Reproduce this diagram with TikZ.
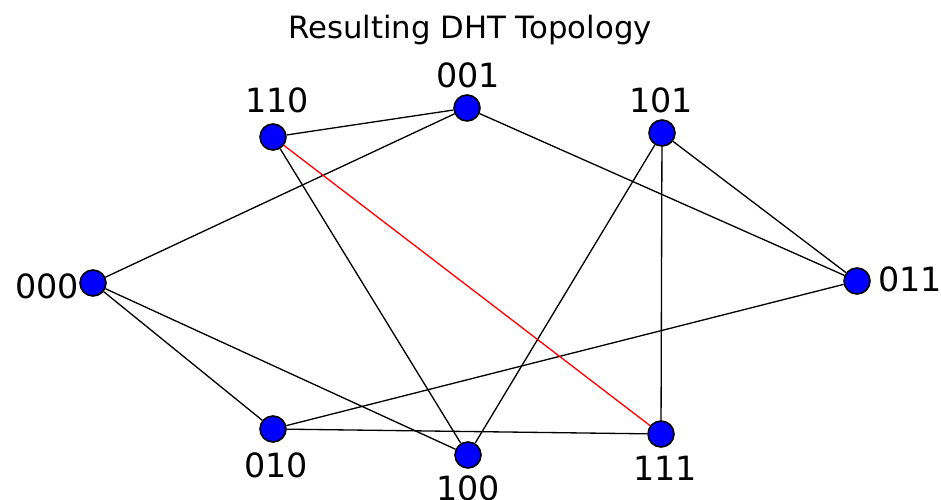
\documentclass[tikz,border=0pt]{standalone}
\usepackage{fontspec}
\setmainfont{DejaVu Sans}

\tikzset{
    peer/.style={circle, draw=black, fill=blue, line width=0.9pt, minimum size=0.52cm, inner sep=0pt},
    link/.style={black, line width=0.75pt},
    idtext/.style={font=\fontsize{19}{21}\selectfont, inner sep=0pt}
}

\begin{document}
\begin{tikzpicture}[x=0.02cm, y=-0.02cm]
    \useasboundingbox (0,0) rectangle (941,500);

    \node[font=\fontsize{17.5}{20}\selectfont] (title) at (470,30) {Resulting DHT Topology};

    % peers
    \node[peer] (p000) at (93,283) {};
    \node[peer] (p110) at (273,137) {};
    \node[peer] (p001) at (467,108) {};
    \node[peer] (p101) at (662,133) {};
    \node[peer] (p011) at (857,281) {};
    \node[peer] (p010) at (273,429) {};
    \node[peer] (p100) at (468,455) {};
    \node[peer] (p111) at (661,434) {};

    % ids
    \node[idtext] (t000) at (47,286) {000};
    \node[idtext] (t110) at (277,100) {110};
    \node[idtext] (t001) at (468,75) {001};
    \node[idtext] (t101) at (661,100) {101};
    \node[idtext] (t011) at (910,279) {011};
    \node[idtext] (t010) at (276,465) {010};
    \node[idtext] (t100) at (468,488) {100};
    \node[idtext] (t111) at (665,468) {111};

    % links
    \foreach \a/\b in {110/001, 001/000, 001/011, 110/100, 101/100,
                       101/111, 101/011, 000/010, 000/100, 010/011, 010/111}
    {
        \draw[link] (p\a) -- (p\b);
    }
    \draw[link, red] (p110) -- (p111);

\end{tikzpicture}
\end{document}
